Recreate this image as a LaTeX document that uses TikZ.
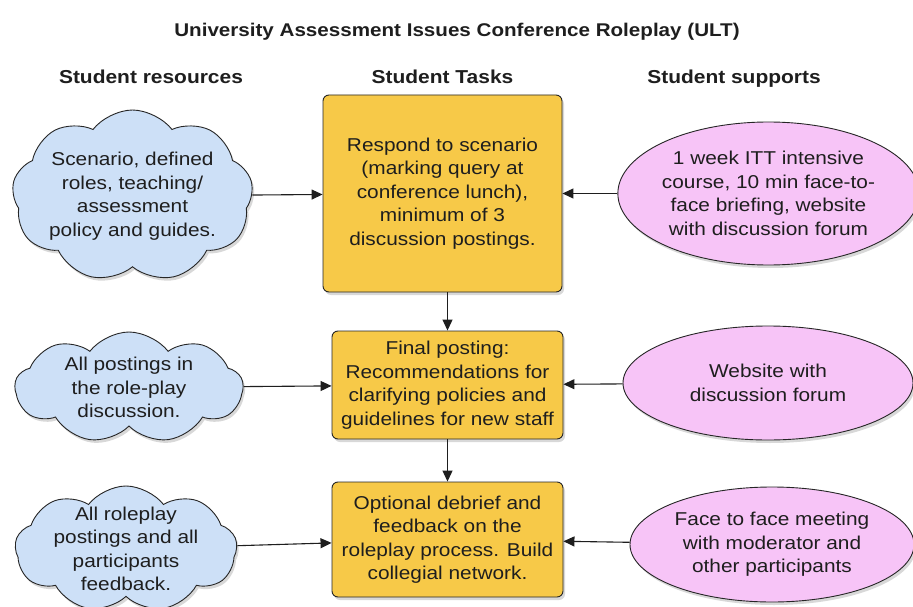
\documentclass[tikz,border=0pt]{standalone}
\usepackage{fontspec}
\setmainfont{Liberation Sans}[FakeStretch=1.12]
\usetikzlibrary{shapes}
\usetikzlibrary{arrows.meta}
\usetikzlibrary{shadows}

\definecolor{taskyellow}{RGB}{247,201,72}
\definecolor{resblue}{RGB}{205,224,247}
\definecolor{suppink}{RGB}{247,196,247}
\definecolor{inkgray}{RGB}{30,30,30}

\begin{document}
\begin{tikzpicture}[x=1pt,y=-1pt]
	\tikzstyle{heading}=[font=\bfseries\fontsize{18.7}{21}\selectfont, text=inkgray, anchor=base, inner sep=0pt]
	\tikzstyle{body}=[align=center, font=\fontsize{18.6}{23.5}\selectfont, text=inkgray, line width=0.9pt, draw=black!85, drop shadow={shadow xshift=2pt, shadow yshift=-3pt, opacity=0.3}]
	\tikzstyle{task}=[body, rectangle, rounded corners=6pt, fill=taskyellow, inner sep=0pt]
	\tikzstyle{res}=[body, cloud, cloud puffs=9, cloud puff arc=105, cloud ignores aspect, fill=resblue, inner xsep=-30pt, inner ysep=-15pt]
	\tikzstyle{sup}=[body, ellipse, fill=suppink, inner sep=0pt]
	\tikzstyle{link}=[-{Triangle[length=11pt,width=10pt]}, line width=1.1pt, draw=inkgray]

	\useasboundingbox (0,0) rectangle (913,607);
	\fill[white] (0,0) rectangle (913,607);

	\node[heading, font=\bfseries\fontsize{18.4}{21}\selectfont] (title) at (457,36.5) {University Assessment Issues Conference Roleplay (ULT)};
	\node[heading] (hres) at (151,84) {Student resources};
	\node[heading] (htask) at (442.5,84) {Student Tasks};
	\node[heading] (hsup) at (734,84) {Student supports};

	\node[task, minimum width=239pt, minimum height=197pt] (t1) at (442.5,193.5) {Respond to scenario\\(marking query at\\conference lunch),\\minimum of 3\\discussion postings.};
	\node[task, minimum width=231pt, minimum height=108pt] (t2) at (447.5,385) {Final posting:\\Recommendations for\\clarifying policies and\\guidelines for new staff};
	\node[task, minimum width=231pt, minimum height=115pt] (t3) at (447.5,539.5) {Optional debrief and\\feedback on the\\roleplay process. Build\\collegial network.};

	\node[res, minimum width=241pt, minimum height=172pt] (r1) at (132.5,196) {Scenario, defined\\roles, teaching/\\assessment\\policy and guides.};
	\node[res, minimum width=228pt, minimum height=111pt] (r2) at (129,387.5) {All postings in\\the role-play\\discussion.};
	\node[res, minimum width=222pt, minimum height=126pt] (r3) at (126,549) {All roleplay\\postings and all\\participants\\feedback.};

	\node[sup, minimum width=289pt, minimum height=143pt] (s1) at (768.5,193.5) {1 week ITT intensive\\course, 10 min face-to-\\face briefing, website\\with discussion forum};
	\node[sup, minimum width=290pt, minimum height=114pt] (s2) at (768,383) {Website with\\discussion forum};
	\node[sup, minimum width=284pt, minimum height=115pt] (s3) at (772,544.5) {Face to face meeting\\with moderator and\\other participants};

	\draw[link] (r1) -- (t1);
	\draw[link] (r2) -- (t2);
	\draw[link] (r3) -- (t3);
	\draw[link] (s1) -- (t1);
	\draw[link] (s2) -- (t2);
	\draw[link] (s3) -- (t3);
	\draw[link] (t1.south -| t2.north) -- (t2.north);
	\draw[link] (t2) -- (t3);
\end{tikzpicture}
\end{document}
